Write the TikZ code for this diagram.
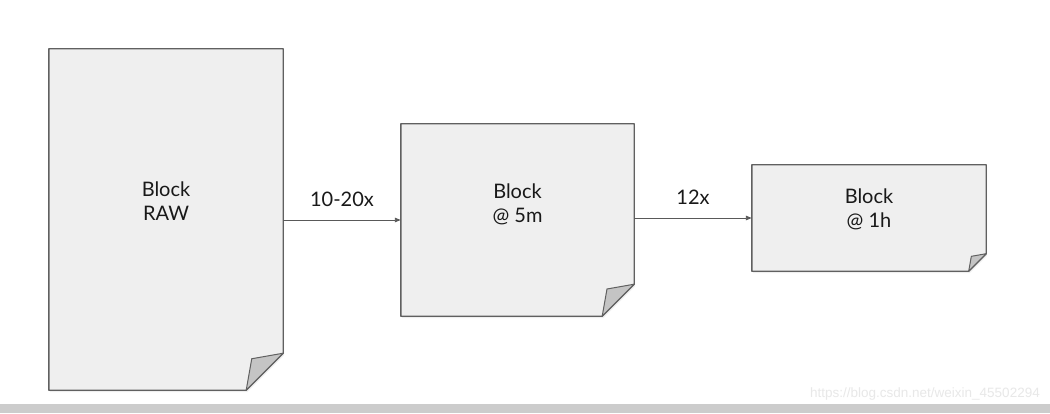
\documentclass[tikz,border=0pt]{standalone}
\usepackage{fontspec}
\setmainfont{Lato}
\newfontfamily\markfont{Liberation Sans}
\usetikzlibrary{arrows.meta,backgrounds,shadows}

\definecolor{pagegray}{HTML}{EFEFEF}
\definecolor{edgegray}{HTML}{606060}
\definecolor{curlgray}{HTML}{C4C4C4}
\definecolor{bargray}{HTML}{CCCCCC}

% folded sheet round a named node: node, fold size
\newcommand{\dogear}[2]{%
  \filldraw[page line] (#1.north west) -- (#1.north east) -- ([yshift=#2]#1.south east)
    -- ([xshift=-#2]#1.south east) -- (#1.south west) -- cycle;
  \filldraw[curl line] ([yshift=#2]#1.south east) -- ([xshift=-0.85*#2,yshift=0.85*#2]#1.south east)
    -- ([xshift=-#2]#1.south east) -- cycle;
}

\begin{document}
\begin{tikzpicture}[x=1pt, y=1pt,
			block/.style={rectangle, inner sep=0pt},
			every label/.style={align=center, text=black!90, font=\fontsize{20}{24}\selectfont},
			page line/.style={draw=edgegray, line width=1.4pt, fill=pagegray, line join=round,
				drop shadow={shadow xshift=1pt, shadow yshift=-2pt, opacity=0.12}},
			curl line/.style={draw=edgegray, line width=1pt, fill=curlgray, line join=round},
			flow/.style={draw=black!65, line width=0.9pt, -{Triangle[length=6pt,width=4.5pt]}},
			rate/.style={above, inner sep=0pt, yshift=13pt, text=black!90, font=\fontsize{20}{24}\selectfont}
			]
			\useasboundingbox (0,0) rectangle (1050,413);
			
			\node[block, minimum width=234pt, minimum height=341pt, label={[yshift=18.5pt]center:{Block\\RAW}}] (raw) at (166,193.5) {};
			\node[block, minimum width=233pt, minimum height=192pt, label={[yshift=15.5pt]center:{Block\\@ 5m}}] (fivemin) at (517.5,193) {};
			\node[block, minimum width=234pt, minimum height=106pt, label={[yshift=8.5pt]center:{Block\\@ 1h}}] (onehour) at (869,195) {};
			
			\draw[flow] (raw.east |- fivemin.west) -- node[rate] {10-20x} (fivemin.west);
			\draw[flow] (fivemin.east |- onehour.west) -- node[rate] {12x} (onehour.west);
			
			\node[anchor=east, inner sep=0pt, text=black!9, font=\markfont\fontsize{13.5}{16}\selectfont] (mark) at (1040,19) {https://blog.csdn.net/weixin\_45502294};
			
			\begin{scope}[on background layer]
				\fill[white] (0,0) rectangle (1050,413);
				\dogear{raw}{37pt}
				\dogear{fivemin}{32pt}
				\dogear{onehour}{17.5pt}
				\fill[bargray] (0,0) rectangle (1050,9);
			\end{scope}
		\end{tikzpicture}
\end{document}
